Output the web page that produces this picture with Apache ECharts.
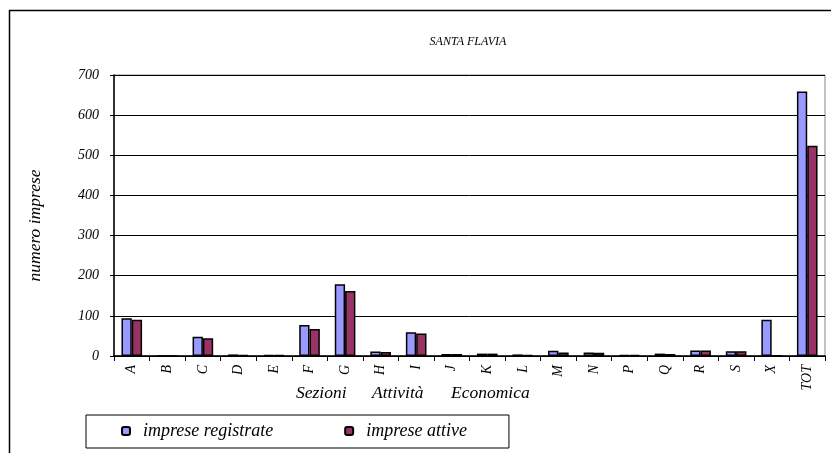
<!DOCTYPE html>
<html><head><meta charset="utf-8">
<script src="https://cdn.jsdelivr.net/npm/echarts@6/dist/echarts.min.js"></script>
<style>html,body{margin:0;padding:0;background:#fff}#c{width:831px;height:453px}</style>
</head><body><div id="c"></div>
<script>
const categories = ['A','B','C','D','E','F','G','H','I','J','K','L','M','N','P','Q','R','S','X','TOT'];
const registrate = [94,0,48,4,2,77,179,11,59,5,6,4,13,9,2,6,14,12,90,659];
const attive     = [90,0,44,3,2,67,162,10,56,5,6,3,9,8,2,5,14,12,1,524];
const yTicks = [0,100,200,300,400,500,600,700];

const font = 'Liberation Serif';
const chart = echarts.init(document.getElementById('c'), null, {renderer:'canvas'});
chart.setOption({
  animation:false,
  backgroundColor:'#fff',
  title:{text:'SANTA FLAVIA', left:463, top:31, textAlign:'center',
    textStyle:{fontFamily:font, fontStyle:'italic', fontWeight:'normal', fontSize:12, color:'#000'}},
  grid:{left:114, top:75, right:6, bottom:97, show:true, borderColor:'#888', borderWidth:1},
  legend:{left:86, top:415, itemGap:71, itemWidth:8, itemHeight:8,
    padding:[7,42,8,35], borderColor:'#000', borderWidth:1,
    textStyle:{fontFamily:font, fontStyle:'italic', fontSize:18, color:'#000', padding:[0,0,0,8]},
    data:['imprese registrate','imprese attive']},
  xAxis:{type:'category', data:categories,
    axisLine:{lineStyle:{color:'#000', width:1.5}},
    axisTick:{show:true, length:5, lineStyle:{color:'#000'}},
    axisLabel:{rotate:90, margin:9, fontFamily:font, fontStyle:'italic', fontSize:14, color:'#000'}},
  yAxis:{type:'value', min:yTicks[0], max:yTicks[yTicks.length-1], interval:100,
    name:'numero imprese', nameLocation:'middle', nameGap:70, nameRotate:90,
    nameTextStyle:{fontFamily:font, fontStyle:'italic', fontSize:17.5, color:'#000', padding:[0,0,0,-20]},
    axisLine:{show:true, lineStyle:{color:'#000', width:1.5}},
    axisTick:{show:true, length:4, lineStyle:{color:'#000'}},
    splitLine:{lineStyle:{color:'#000', width:1}},
    axisLabel:{margin:15, fontFamily:font, fontStyle:'italic', fontSize:14, color:'#000'}},
  series:[
    {name:'imprese registrate', type:'bar', data:registrate, barGap:'0%', barCategoryGap:'42%',
      itemStyle:{color:'#9999FF', borderColor:'#000', borderWidth:1.5}},
    {name:'imprese attive', type:'bar', data:attive,
      itemStyle:{color:'#993366', borderColor:'#000', borderWidth:1.5}}
  ],
  graphic:[
    {type:'rect', shape:{x:9.5, y:10.5, width:900, height:500}, style:{fill:null, stroke:'#000', lineWidth:1.5}, silent:true},
    {type:'text', left:296, top:384, style:{text:'Sezioni', font:'italic 17.5px "Liberation Serif"', fill:'#000'}},
    {type:'text', left:372, top:384, style:{text:'Attività', font:'italic 17.5px "Liberation Serif"', fill:'#000'}},
    {type:'text', left:451, top:384, style:{text:'Economica', font:'italic 17.5px "Liberation Serif"', fill:'#000'}}
  ]
});
</script></body></html>
